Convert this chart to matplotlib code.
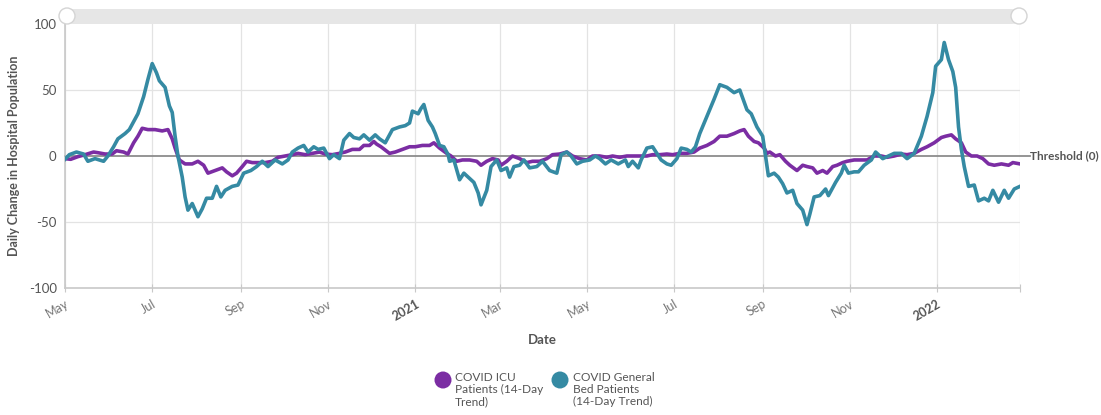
import matplotlib
matplotlib.use("Agg")
import matplotlib.pyplot as plt
import matplotlib.dates as mdates
from matplotlib.patches import FancyBboxPatch, Circle
import pandas as pd

plt.rcParams['font.family'] = ['Lato', 'DejaVu Sans']

# ---------------- data ----------------
gen_dates = [
    "2020-05-01", "2020-05-04", "2020-05-09", "2020-05-14", "2020-05-17", "2020-05-22", "2020-05-28",
    "2020-05-31", "2020-06-04", "2020-06-07", "2020-06-12", "2020-06-15", "2020-06-18", "2020-06-21",
    "2020-06-25", "2020-06-28", "2020-07-01", "2020-07-04", "2020-07-06", "2020-07-10", "2020-07-13",
    "2020-07-15", "2020-07-17", "2020-07-19", "2020-07-22", "2020-07-24", "2020-07-26", "2020-07-29",
    "2020-08-02", "2020-08-05", "2020-08-08", "2020-08-12", "2020-08-15", "2020-08-18", "2020-08-21",
    "2020-08-26", "2020-08-30", "2020-09-03", "2020-09-08", "2020-09-12", "2020-09-16", "2020-09-20",
    "2020-09-25", "2020-09-30", "2020-10-04", "2020-10-07", "2020-10-11", "2020-10-15", "2020-10-18",
    "2020-10-22", "2020-10-25", "2020-10-29", "2020-11-02", "2020-11-05", "2020-11-09", "2020-11-12",
    "2020-11-16", "2020-11-19", "2020-11-23", "2020-11-26", "2020-11-30", "2020-12-04", "2020-12-07",
    "2020-12-11", "2020-12-16", "2020-12-21", "2020-12-25", "2020-12-28", "2020-12-30", "2021-01-03",
    "2021-01-05", "2021-01-07", "2021-01-10", "2021-01-13", "2021-01-15", "2021-01-18", "2021-01-21",
    "2021-01-24", "2021-01-25", "2021-01-28", "2021-02-01", "2021-02-04", "2021-02-08", "2021-02-11",
    "2021-02-14", "2021-02-16", "2021-02-20", "2021-02-23", "2021-02-27", "2021-03-02", "2021-03-06",
    "2021-03-08", "2021-03-11", "2021-03-15", "2021-03-18", "2021-03-22", "2021-03-27", "2021-03-31",
    "2021-04-05", "2021-04-10", "2021-04-13", "2021-04-17", "2021-04-20", "2021-04-24", "2021-04-28",
    "2021-05-03", "2021-05-07", "2021-05-10", "2021-05-14", "2021-05-18", "2021-05-23", "2021-05-28",
    "2021-05-30", "2021-06-02", "2021-06-06", "2021-06-08", "2021-06-12", "2021-06-16", "2021-06-19",
    "2021-06-22", "2021-06-26", "2021-06-29", "2021-07-03", "2021-07-06", "2021-07-10", "2021-07-13",
    "2021-07-16", "2021-07-19", "2021-07-24", "2021-07-29", "2021-08-02", "2021-08-07", "2021-08-12",
    "2021-08-16", "2021-08-21", "2021-08-24", "2021-08-28", "2021-09-01", "2021-09-03", "2021-09-05",
    "2021-09-09", "2021-09-12", "2021-09-15", "2021-09-18", "2021-09-22", "2021-09-25", "2021-09-29",
    "2021-10-02", "2021-10-04", "2021-10-07", "2021-10-11", "2021-10-15", "2021-10-17", "2021-10-22",
    "2021-10-26", "2021-10-28", "2021-10-31", "2021-11-04", "2021-11-07", "2021-11-11", "2021-11-16",
    "2021-11-19", "2021-11-24", "2021-11-28", "2021-12-02", "2021-12-07", "2021-12-11", "2021-12-16",
    "2021-12-21", "2021-12-25", "2021-12-29", "2021-12-31", "2022-01-04", "2022-01-06", "2022-01-09",
    "2022-01-12", "2022-01-14", "2022-01-16", "2022-01-18", "2022-01-20", "2022-01-23", "2022-01-27",
    "2022-01-30", "2022-02-03", "2022-02-06", "2022-02-09", "2022-02-13", "2022-02-17", "2022-02-20",
    "2022-02-24", "2022-02-28",
]
gen_values = [
    -2.5, 1, 3, 1.5, -4, -2, -4,
    0, 7, 13, 17, 20, 26, 32,
    45, 58, 70, 63, 57, 52, 38,
    33, 15, 0, -16, -31, -41, -36,
    -46, -40, -32, -32, -23, -31, -26,
    -23, -22, -13, -11, -8, -4, -8,
    -3, -6, -3, 3, 6, 8, 3,
    7, 5, 6, -2, 1, -2, 12,
    17, 14, 13, 16, 12, 16, 13,
    10, 20, 22, 23, 25, 34, 32,
    36, 39, 27, 22, 17, 8, 7,
    1, -4, -3, -18, -13, -17, -20,
    -28, -37, -26, -8, -3, -11, -9,
    -16, -8, -7, -3, -9, -8, -4,
    -11, -13, 1, 3, 0, -6, -4,
    -3, 0, -2, -6, -3, -6, -3,
    -8, -4, -9, -3, 6, 7, 2,
    -3, -6, -7, -2, 6, 5, 3,
    7, 17, 30, 43, 54, 52, 48,
    50, 35, 32, 22, 15, 0, -15,
    -13, -16, -21, -28, -26, -36, -41,
    -52, -44, -31, -30, -25, -30, -20,
    -13, -7, -13, -12, -12, -7, -3,
    3, -2, 0, 2, 2, -2, 2,
    15, 30, 48, 68, 73, 86, 73,
    64, 52, 22, 5, -8, -23, -22,
    -34, -32, -34, -26, -35, -26, -32,
    -25, -23,
]

icu_dates = [
    "2020-05-01", "2020-05-05", "2020-05-10", "2020-05-15", "2020-05-21", "2020-05-24", "2020-05-29",
    "2020-06-03", "2020-06-06", "2020-06-11", "2020-06-14", "2020-06-18", "2020-06-21", "2020-06-24",
    "2020-06-28", "2020-07-03", "2020-07-08", "2020-07-12", "2020-07-15", "2020-07-17", "2020-07-20",
    "2020-07-24", "2020-07-29", "2020-08-02", "2020-08-06", "2020-08-09", "2020-08-14", "2020-08-19",
    "2020-08-22", "2020-08-26", "2020-08-29", "2020-09-02", "2020-09-05", "2020-09-09", "2020-09-13",
    "2020-09-18", "2020-09-23", "2020-09-27", "2020-10-02", "2020-10-07", "2020-10-11", "2020-10-16",
    "2020-10-21", "2020-10-26", "2020-10-30", "2020-11-04", "2020-11-09", "2020-11-13", "2020-11-18",
    "2020-11-23", "2020-11-26", "2020-11-30", "2020-12-03", "2020-12-05", "2020-12-08", "2020-12-14",
    "2020-12-18", "2020-12-23", "2020-12-28", "2021-01-01", "2021-01-06", "2021-01-11", "2021-01-14",
    "2021-01-18", "2021-01-23", "2021-01-26", "2021-01-30", "2021-02-03", "2021-02-08", "2021-02-13",
    "2021-02-16", "2021-02-20", "2021-02-24", "2021-02-28", "2021-03-02", "2021-03-06", "2021-03-10",
    "2021-03-15", "2021-03-20", "2021-03-24", "2021-03-29", "2021-04-03", "2021-04-07", "2021-04-12",
    "2021-04-17", "2021-04-21", "2021-04-26", "2021-05-01", "2021-05-05", "2021-05-10", "2021-05-15",
    "2021-05-19", "2021-05-24", "2021-05-29", "2021-06-02", "2021-06-07", "2021-06-12", "2021-06-16",
    "2021-06-21", "2021-06-26", "2021-06-30", "2021-07-05", "2021-07-10", "2021-07-15", "2021-07-19",
    "2021-07-24", "2021-07-29", "2021-08-02", "2021-08-07", "2021-08-12", "2021-08-16", "2021-08-19",
    "2021-08-22", "2021-08-26", "2021-08-29", "2021-09-02", "2021-09-04", "2021-09-06", "2021-09-10",
    "2021-09-13", "2021-09-17", "2021-09-20", "2021-09-25", "2021-09-29", "2021-10-02", "2021-10-06",
    "2021-10-09", "2021-10-13", "2021-10-16", "2021-10-20", "2021-10-23", "2021-10-27", "2021-10-30",
    "2021-11-04", "2021-11-09", "2021-11-13", "2021-11-18", "2021-11-23", "2021-11-27", "2021-12-02",
    "2021-12-07", "2021-12-11", "2021-12-16", "2021-12-21", "2021-12-25", "2021-12-30", "2022-01-04",
    "2022-01-07", "2022-01-11", "2022-01-14", "2022-01-18", "2022-01-21", "2022-01-25", "2022-01-29",
    "2022-02-02", "2022-02-06", "2022-02-10", "2022-02-15", "2022-02-20", "2022-02-23", "2022-02-28",
]
icu_values = [
    -2, -2.5, -0.5, 1, 3, 2.5, 1.5,
    1.5, 4, 3, 1.5, 10, 15, 21,
    20, 20, 19, 20, 13, 6, -3,
    -6, -6, -4, -7, -13, -11, -9,
    -12, -15, -13, -8, -4, -5, -5,
    -5, -4, -1, 0, 1, 2, 1,
    2, 3, 1.5, 1, 2, 3, 5,
    5, 8, 8, 11, 9, 7, 2,
    3, 5, 7, 7, 8, 8, 10,
    6, 2, 0, -4, -3, -3, -4,
    -7, -4, -2, -3, -7, -4, 0,
    -2, -5, -4, -4, -2, 1, 1.5,
    3, 0, -2, -3, 0, 0, -1,
    0, -1, 0, 0, 0, 0, 1,
    1, 1.5, 1, 2, 2, 3, 6,
    8, 11, 15, 15, 17, 19, 20,
    15, 11, 10, 6, 2, 3, 0,
    1, -4, -7, -11, -7, -8, -9,
    -13, -11, -13, -8, -7, -5, -4,
    -3, -3, -3, 0, 0, -1, 0,
    1.5, 1, 2, 5, 7, 10, 14,
    15, 16, 13, 10, 3, 0, 0,
    -2, -6, -7, -6, -7, -5, -6,
]

series_labels = ["COVID ICU\nPatients (14-Day\nTrend)", "COVID General\nBed Patients\n(14-Day Trend)"]
series_colors = ["#7b2da3", "#358aa3"]
y_ticks = [-100, -50, 0, 50, 100]
x_tick_dates = ["2020-05-01", "2020-07-01", "2020-09-01", "2020-11-01", "2021-01-01", "2021-03-01",
                "2021-05-01", "2021-07-01", "2021-09-01", "2021-11-01", "2022-01-01"]
x_tick_labels = ["May", "Jul", "Sep", "Nov", "2021", "Mar", "May", "Jul", "Sep", "Nov", "2022"]
threshold_label = "Threshold (0)"
x_start, x_end = "2020-05-01", "2022-02-28"

# ---------------- figure ----------------
W, H = 1101, 415
fig = plt.figure(figsize=(W / 100, H / 100), dpi=100)
fig.patch.set_facecolor("white")

L, R, T, B = 65, 1020, 24, 288
ax = fig.add_axes([L / W, 1 - B / H, (R - L) / W, (B - T) / H])

gd = pd.to_datetime(gen_dates)
idd = pd.to_datetime(icu_dates)
xt = pd.to_datetime(x_tick_dates)

ax.set_xlim(pd.Timestamp(x_start), pd.Timestamp(x_end))
ax.set_ylim(-100, 100)

# grid
for d in xt:
    ax.axvline(d, color="#e3e3e3", lw=0.9, zorder=0)
ax.axvline(pd.Timestamp(x_end), color="#e3e3e3", lw=0.9, zorder=0)
for v in [50, -50]:
    ax.axhline(v, color="#e3e3e3", lw=0.9, zorder=0)

# threshold line (extends past the plot on the right)
ax.plot([pd.Timestamp(x_start), pd.Timestamp(x_end) + pd.Timedelta(days=7)], [0, 0],
        color="#8c8c8c", lw=1.3, zorder=1, clip_on=False)
ax.text(pd.Timestamp(x_end) + pd.Timedelta(days=7), 0, threshold_label, ha="left", va="center",
        fontsize=8.5, fontweight="bold", color="#555555")

ax.plot(idd, icu_values, color=series_colors[0], lw=2.6, zorder=3, solid_joinstyle="round")
ax.plot(gd, gen_values, color=series_colors[1], lw=2.6, zorder=4, solid_joinstyle="round")

for s in ["top", "right"]:
    ax.spines[s].set_visible(False)
ax.spines["left"].set_color("#c8c8c8")
ax.spines["bottom"].set_color("#c8c8c8")
ax.spines["left"].set_linewidth(1.2)
ax.spines["bottom"].set_linewidth(1.2)

ax.set_yticks(y_ticks)
ax.set_yticklabels([str(v) for v in y_ticks], fontsize=9.5, color="#555555")
ax.tick_params(axis="y", length=0, pad=6)

ax.set_xticks(list(xt) + [pd.Timestamp(x_end)])
labels = x_tick_labels + [""]
ax.set_xticklabels(labels, rotation=30, ha="right", rotation_mode="anchor", fontsize=9, color="#777777")
for lab in ax.get_xticklabels():
    if lab.get_text() in ("2021", "2022"):
        lab.set_fontweight("bold")
        lab.set_color("#555555")
ax.tick_params(axis="x", length=6, direction="inout", color="#c8c8c8", pad=4)

ax.set_ylabel("Daily Change in Hospital Population", fontsize=9, fontweight="bold", color="#555555", labelpad=6)
ax.set_xlabel("Date", fontsize=9.5, fontweight="bold", color="#555555", labelpad=8)

# scrollbar at top
def fx(px):
    return px / W

def fy(py):
    return 1 - py / H

bar = FancyBboxPatch((fx(66), fy(24)), fx(1019) - fx(66), fy(9) - fy(24),
                     boxstyle="round,pad=0,rounding_size=0.008", transform=fig.transFigure,
                     facecolor="#e6e6e6", edgecolor="none", zorder=0)
fig.patches.append(bar)
for hx in [67, 1019]:
    c = Circle((hx, H - 16), 8, transform=None, facecolor="white", edgecolor="#d4d4d4", lw=1.0, zorder=5)
    fig.patches.append(c)
    fig.text(fx(hx), fy(16.5), "||", ha="center", va="center", fontsize=7, color="#bbbbbb")

# legend
leg_items = [(443, 455), (560, 573)]
for (cx, tx), lab, col in zip(leg_items, series_labels, series_colors):
    fig.patches.append(Circle((cx, H - 380), 8.5, transform=None, facecolor=col, edgecolor="none"))
    fig.text(fx(tx), fy(372), lab, ha="left", va="top", fontsize=8.6, color="#555555", linespacing=1.1)

fig.savefig("out.png", dpi=100, facecolor="white")
